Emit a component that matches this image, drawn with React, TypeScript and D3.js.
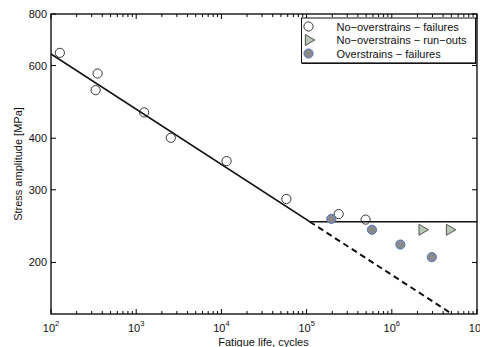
import React, { useRef, useEffect } from 'react'
import * as d3 from 'd3'

// no-overstrains, failures
const failCycles = [127, 352, 334, 1240, 2550, 11500, 57900, 238000, 493000]
const failStress = [644, 574, 523, 462, 401, 352, 285, 262, 254]
// no-overstrains, run-outs
const runoutCycles = [2270000, 4760000]
const runoutStress = [240, 240]
// overstrains, failures
const overCycles = [195000, 585000, 1260000, 2950000]
const overStress = [255, 240, 221, 206]
// fitted S-N curve and its extrapolation
const fitCycles = [100, 109000, 10000000]
const fitStress = [640, 251, 251]
const extCycles = [109000, 5000000]
const extStress = [251, 150.4]

const yTicks = [200, 300, 400, 600, 800]
const xExponents = [2, 3, 4, 5, 6, 7]
const legendLabels = [
  'No\u2212overstrains \u2212 failures',
  'No\u2212overstrains \u2212 run\u2212outs',
  'Overstrains \u2212 failures',
]

const W = 480
const H = 347
const FONT = '"Liberation Sans", Arial, Helvetica, sans-serif'

export default function App() {
  const ref = useRef<SVGSVGElement>(null)

  useEffect(() => {
    const svg = d3.select(ref.current)
    svg.selectAll('*').remove()

    const left = 51, right = 477, top = 14, bottom = 314

    const x = d3.scaleLog().domain([1e2, 1e7]).range([left, right])
    const y = d3.scaleLog().domain([150, 800]).range([bottom, top])

    svg.append('defs').append('clipPath').attr('id', 'plotclip')
      .append('rect')
      .attr('x', left).attr('y', top)
      .attr('width', right - left).attr('height', bottom - top)

    // minor / major ticks on x (bottom + top), pointing inward
    const minor: number[] = []
    for (let e = 2; e < 7; e++) for (let m = 2; m <= 9; m++) minor.push(m * Math.pow(10, e))
    const majors = xExponents.map(e => Math.pow(10, e))

    const axes = svg.append('g').attr('stroke', '#000').attr('stroke-width', 1)
    const tickLine = (x1: number, y1: number, x2: number, y2: number) =>
      axes.append('line').attr('x1', x1).attr('y1', y1).attr('x2', x2).attr('y2', y2)

    minor.forEach(v => {
      tickLine(x(v), bottom, x(v), bottom - 3)
      tickLine(x(v), top, x(v), top + 3)
    })
    majors.forEach(v => {
      tickLine(x(v), bottom, x(v), bottom - 5)
      tickLine(x(v), top, x(v), top + 5)
    })
    yTicks.forEach(v => {
      tickLine(left, y(v), left + 5, y(v))
      tickLine(right, y(v), right - 5, y(v))
    })

    // box
    axes.append('rect')
      .attr('x', left).attr('y', top)
      .attr('width', right - left).attr('height', bottom - top)
      .attr('fill', 'none').attr('stroke-width', 1.3)

    // tick labels
    const labels = svg.append('g').attr('font-family', FONT).attr('fill', '#111')
    yTicks.forEach(v => {
      labels.append('text')
        .attr('x', left - 4).attr('y', y(v) + 4)
        .attr('text-anchor', 'end').attr('font-size', 11)
        .text(v)
    })
    xExponents.forEach(e => {
      const t = labels.append('text')
        .attr('x', x(Math.pow(10, e))).attr('y', 332)
        .attr('text-anchor', 'middle').attr('font-size', 11)
      t.append('tspan').text('10')
      t.append('tspan').attr('dy', -6).attr('font-size', 7.5).text(e)
    })

    labels.append('text')
      .attr('x', (left + right) / 2 - 0.5).attr('y', 345.5)
      .attr('text-anchor', 'middle').attr('font-size', 11)
      .text('Fatigue life, cycles')
    labels.append('text')
      .attr('transform', `translate(22,${(top + bottom) / 2}) rotate(-90)`)
      .attr('text-anchor', 'middle').attr('font-size', 11)
      .text('Stress amplitude [MPa]')

    const plot = svg.append('g').attr('clip-path', 'url(#plotclip)')

    const line = d3.line<[number, number]>().x(d => x(d[0])).y(d => y(d[1]))
    plot.append('path')
      .attr('d', line(fitCycles.map((c, i) => [c, fitStress[i]])))
      .attr('fill', 'none').attr('stroke', '#111').attr('stroke-width', 1.5)
    plot.append('path')
      .attr('d', line(extCycles.map((c, i) => [c, extStress[i]])))
      .attr('fill', 'none').attr('stroke', '#111').attr('stroke-width', 2)
      .attr('stroke-dasharray', '6,4')

    const tri = d3.symbol().type(d3.symbolTriangle).size(52)

    failCycles.forEach((c, i) => {
      svg.append('circle')
        .attr('cx', x(c)).attr('cy', y(failStress[i])).attr('r', 4.6)
        .attr('fill', 'none').attr('stroke', '#222').attr('stroke-width', 0.9)
    })
    overCycles.forEach((c, i) => {
      svg.append('circle')
        .attr('cx', x(c)).attr('cy', y(overStress[i])).attr('r', 4.6)
        .attr('fill', '#8a8a8a').attr('stroke', '#4a6cc4').attr('stroke-width', 0.9)
    })
    runoutCycles.forEach((c, i) => {
      svg.append('path')
        .attr('d', tri())
        .attr('transform', `translate(${x(c)},${y(runoutStress[i])}) rotate(90)`)
        .attr('fill', '#b7c7b3').attr('stroke', '#444').attr('stroke-width', 0.9)
    })

    // legend
    const lg = svg.append('g')
    lg.append('rect')
      .attr('x', 301.5).attr('y', 18).attr('width', 174).attr('height', 45)
      .attr('fill', '#fff').attr('stroke', '#111').attr('stroke-width', 1)
    lg.append('line').attr('x1', 302).attr('y1', 63.3).attr('x2', 476).attr('y2', 63.3)
      .attr('stroke', '#111').attr('stroke-width', 1.2)
    lg.append('line').attr('x1', 475.7).attr('y1', 18).attr('x2', 475.7).attr('y2', 64)
      .attr('stroke', '#111').attr('stroke-width', 1.2)

    const rowY = [26.5, 40, 53.5]
    lg.append('circle').attr('cx', 308.5).attr('cy', rowY[0]).attr('r', 4.6)
      .attr('fill', 'none').attr('stroke', '#222').attr('stroke-width', 0.9)
    lg.append('path').attr('d', tri())
      .attr('transform', `translate(308.5,${rowY[1]}) rotate(90)`)
      .attr('fill', '#b7c7b3').attr('stroke', '#444').attr('stroke-width', 0.9)
    lg.append('circle').attr('cx', 308.5).attr('cy', rowY[2]).attr('r', 4.6)
      .attr('fill', '#8a8a8a').attr('stroke', '#4a6cc4').attr('stroke-width', 0.9)

    legendLabels.forEach((s, i) => {
      lg.append('text')
        .attr('x', 336.5).attr('y', rowY[i] + 4)
        .attr('font-family', FONT).attr('font-size', 11).attr('fill', '#111')
        .text(s)
    })
  }, [])

  return (
    <svg
      ref={ref}
      width={W}
      height={H}
      style={{ position: 'absolute', left: 0, top: 0, background: '#fff' }}
    />
  )
}
